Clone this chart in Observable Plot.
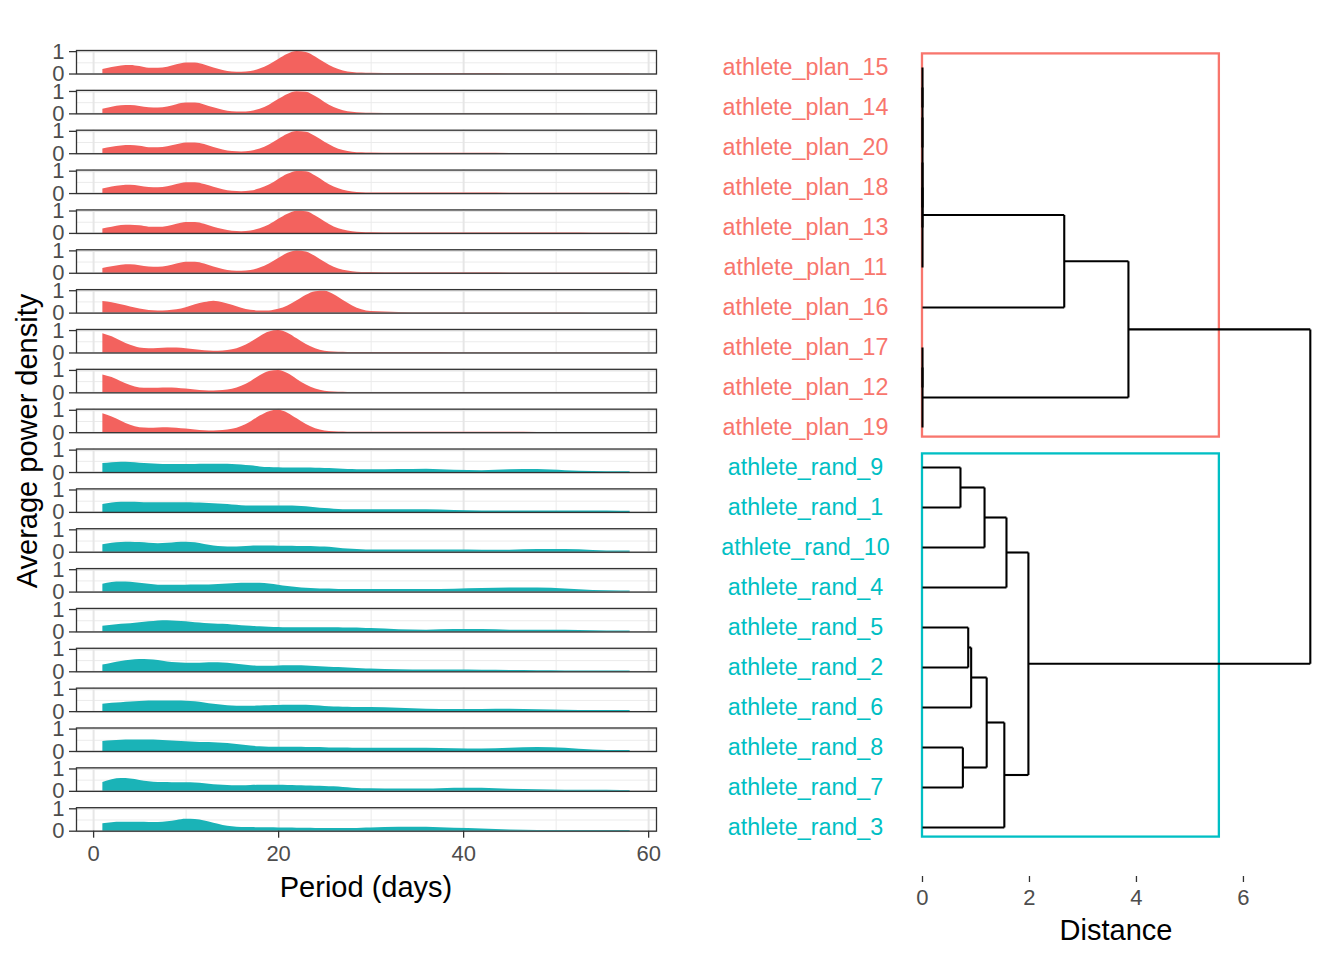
<!DOCTYPE html>
<html>
<head>
<meta charset="utf-8">
<script src="https://cdn.jsdelivr.net/npm/d3@7"></script>
<script src="https://cdn.jsdelivr.net/npm/@observablehq/plot@0.6"></script>
<style>
  body { margin: 0; background: #ffffff; }
  #chart { position: relative; width: 1344px; height: 960px; font-family: "Liberation Sans", Arial, Helvetica, sans-serif; background: #fff; overflow: hidden; }
  #left { position: absolute; left: 0; top: 0; }
  #right { position: absolute; left: 680px; top: 0; }
  .title { position: absolute; font-size: 29px; color: #000; white-space: nowrap; line-height: 1; }
</style>
</head>
<body>
<div id="chart">
  <div id="left"></div>
  <div id="right"></div>
  <div class="title" style="left:366px;top:887px;transform:translate(-50%,-50%);">Period (days)</div>
  <div class="title" style="left:27px;top:441px;transform:translate(-50%,-50%) rotate(-90deg);">Average power density</div>
  <div class="title" style="left:1116px;top:930px;transform:translate(-50%,-50%);">Distance</div>
</div>
<script>
// ---------- data ----------
const leaves = [
  "athlete_plan_15", "athlete_plan_14", "athlete_plan_20", "athlete_plan_18", "athlete_plan_13",
  "athlete_plan_11", "athlete_plan_16", "athlete_plan_17", "athlete_plan_12", "athlete_plan_19",
  "athlete_rand_9", "athlete_rand_1", "athlete_rand_10", "athlete_rand_4", "athlete_rand_5",
  "athlete_rand_2", "athlete_rand_6", "athlete_rand_8", "athlete_rand_7", "athlete_rand_3"
];
const groupNames = ["plan", "rand"];
const groupColors = ["#F3625E", "#1AB3B7"];
const labelColors = ["#F8766D", "#00BFC4"];

const periods = [1,2,3,4,5,6,7,8,9,10,11,12,13,14,15,16,17,18,19,20,21,22,23,24,25,26,27,28,29,30,33,36,39,42,45,48,51,54,57,58];
const xTicks = [0, 20, 40, 60];
const xMinor = [10, 30, 50];
const yTicks = [0, 1];
const distTicks = [0, 2, 4, 6];

const power_plan_15 = [0.20,0.29,0.36,0.38,0.33,0.26,0.26,0.30,0.41,0.49, 0.49,0.40,0.27,0.16,0.09,0.08,0.11,0.22,0.40,0.65, 0.88,1.00,0.96,0.76,0.50,0.28,0.14,0.07,0.04,0.03, 0.02,0.02,0.02,0.02,0.015,0.015,0.015,0.01,0.01,0.01];
const power_plan_14 = [0.21,0.30,0.36,0.37,0.33,0.27,0.26,0.31,0.41,0.48, 0.48,0.40,0.27,0.16,0.09,0.08,0.11,0.21,0.39,0.64, 0.87,0.99,0.96,0.77,0.51,0.28,0.14,0.07,0.04,0.03, 0.02,0.02,0.02,0.02,0.015,0.015,0.015,0.01,0.01,0.01];
const power_plan_20 = [0.21,0.29,0.35,0.37,0.33,0.27,0.27,0.31,0.40,0.48, 0.48,0.41,0.28,0.17,0.10,0.08,0.11,0.21,0.39,0.64, 0.87,0.99,0.96,0.77,0.51,0.29,0.14,0.07,0.04,0.03, 0.02,0.02,0.02,0.02,0.015,0.015,0.015,0.01,0.01,0.01];
const power_plan_18 = [0.20,0.29,0.35,0.37,0.33,0.27,0.26,0.30,0.40,0.48, 0.48,0.40,0.28,0.17,0.10,0.08,0.11,0.21,0.38,0.63, 0.86,0.99,0.97,0.78,0.52,0.29,0.15,0.07,0.04,0.03, 0.02,0.02,0.02,0.02,0.015,0.015,0.015,0.01,0.01,0.01];
const power_plan_13 = [0.20,0.28,0.35,0.37,0.34,0.28,0.27,0.31,0.41,0.49, 0.49,0.41,0.28,0.17,0.10,0.08,0.11,0.21,0.38,0.63, 0.86,0.99,0.97,0.78,0.52,0.29,0.15,0.07,0.04,0.03, 0.02,0.02,0.02,0.02,0.015,0.015,0.015,0.01,0.01,0.01];
const power_plan_11 = [0.21,0.29,0.36,0.38,0.34,0.28,0.27,0.31,0.41,0.49, 0.49,0.41,0.28,0.17,0.10,0.09,0.12,0.23,0.41,0.66, 0.89,1.00,0.95,0.75,0.49,0.27,0.13,0.07,0.04,0.03, 0.02,0.02,0.02,0.02,0.015,0.015,0.015,0.01,0.01,0.01];
const power_plan_16 = [0.52,0.46,0.37,0.27,0.18,0.12,0.10,0.11,0.15,0.24, 0.37,0.47,0.53,0.46,0.35,0.22,0.13,0.10,0.10,0.17, 0.32,0.55,0.80,0.96,0.98,0.82,0.56,0.32,0.15,0.07, 0.03,0.02,0.02,0.02,0.02,0.015,0.015,0.01,0.01,0.01];
const power_plan_17 = [0.86,0.72,0.52,0.34,0.22,0.19,0.20,0.22,0.22,0.19, 0.14,0.10,0.08,0.09,0.14,0.27,0.47,0.73,0.94,1.00, 0.88,0.63,0.38,0.19,0.08,0.04,0.03,0.02,0.02,0.02, 0.02,0.02,0.015,0.015,0.015,0.01,0.01,0.01,0.01,0.01];
const power_plan_12 = [0.80,0.68,0.50,0.33,0.22,0.20,0.21,0.22,0.21,0.17, 0.13,0.09,0.08,0.10,0.16,0.29,0.50,0.76,0.95,1.00, 0.86,0.60,0.35,0.17,0.07,0.04,0.03,0.02,0.02,0.02, 0.02,0.02,0.015,0.015,0.015,0.01,0.01,0.01,0.01,0.01];
const power_plan_19 = [0.84,0.70,0.51,0.33,0.22,0.20,0.21,0.22,0.20,0.16, 0.12,0.09,0.08,0.10,0.15,0.28,0.48,0.74,0.94,1.00, 0.87,0.62,0.37,0.18,0.08,0.04,0.03,0.02,0.02,0.02, 0.02,0.02,0.015,0.015,0.015,0.01,0.01,0.01,0.01,0.01];
const power_rand_9  = [0.40,0.44,0.46,0.45,0.42,0.39,0.37,0.36,0.36,0.36, 0.36,0.37,0.37,0.37,0.36,0.34,0.30,0.25,0.22,0.21, 0.20,0.20,0.20,0.19,0.18,0.17,0.15,0.13,0.12,0.12, 0.13,0.15,0.10,0.08,0.12,0.13,0.08,0.05,0.04,0.04];
const power_rand_1  = [0.35,0.42,0.45,0.45,0.44,0.43,0.43,0.43,0.43,0.43, 0.42,0.41,0.39,0.36,0.33,0.30,0.29,0.29,0.29,0.29, 0.28,0.27,0.25,0.21,0.17,0.14,0.12,0.12,0.12,0.12, 0.12,0.12,0.08,0.06,0.06,0.06,0.06,0.06,0.05,0.05];
const power_rand_10 = [0.33,0.40,0.44,0.45,0.43,0.40,0.38,0.40,0.44,0.45, 0.42,0.35,0.28,0.24,0.23,0.25,0.27,0.28,0.28,0.27, 0.27,0.26,0.26,0.25,0.23,0.20,0.16,0.13,0.11,0.10, 0.10,0.10,0.10,0.09,0.09,0.12,0.12,0.08,0.05,0.05];
const power_rand_4  = [0.35,0.43,0.45,0.44,0.40,0.35,0.31,0.30,0.30,0.31, 0.32,0.32,0.33,0.35,0.37,0.39,0.40,0.39,0.36,0.31, 0.25,0.20,0.17,0.15,0.14,0.13,0.12,0.12,0.12,0.12, 0.12,0.12,0.13,0.16,0.18,0.18,0.14,0.07,0.05,0.05];
const power_rand_5  = [0.25,0.30,0.34,0.37,0.41,0.45,0.49,0.50,0.48,0.45, 0.41,0.38,0.36,0.34,0.31,0.28,0.25,0.23,0.21,0.20, 0.19,0.19,0.19,0.19,0.19,0.19,0.18,0.18,0.17,0.15, 0.10,0.08,0.11,0.11,0.08,0.08,0.07,0.05,0.04,0.04];
const power_rand_2  = [0.30,0.38,0.46,0.52,0.55,0.54,0.50,0.44,0.40,0.38, 0.38,0.39,0.40,0.39,0.36,0.31,0.27,0.25,0.25,0.26, 0.27,0.27,0.26,0.24,0.21,0.19,0.18,0.16,0.14,0.12, 0.09,0.08,0.08,0.07,0.06,0.05,0.04,0.03,0.03,0.03];
const power_rand_6  = [0.33,0.37,0.40,0.43,0.45,0.47,0.48,0.48,0.47,0.46, 0.44,0.39,0.33,0.28,0.25,0.24,0.24,0.25,0.26,0.27, 0.28,0.28,0.28,0.26,0.23,0.21,0.20,0.19,0.18,0.18, 0.15,0.11,0.10,0.10,0.11,0.09,0.06,0.05,0.05,0.05];
const power_rand_8  = [0.45,0.48,0.50,0.51,0.51,0.51,0.50,0.48,0.46,0.43, 0.41,0.40,0.39,0.37,0.34,0.29,0.24,0.21,0.19,0.19, 0.19,0.19,0.18,0.18,0.17,0.16,0.16,0.15,0.15,0.15, 0.15,0.15,0.12,0.11,0.15,0.18,0.15,0.07,0.04,0.04];
const power_rand_7  = [0.40,0.52,0.57,0.55,0.49,0.43,0.40,0.39,0.38,0.38, 0.37,0.34,0.30,0.27,0.25,0.25,0.26,0.27,0.27,0.27, 0.26,0.25,0.24,0.23,0.22,0.20,0.17,0.14,0.12,0.12, 0.10,0.10,0.14,0.14,0.09,0.07,0.05,0.05,0.04,0.04];
const power_rand_3  = [0.33,0.38,0.40,0.40,0.40,0.39,0.39,0.42,0.48,0.53, 0.52,0.45,0.35,0.26,0.20,0.17,0.16,0.15,0.15,0.14, 0.14,0.13,0.13,0.12,0.12,0.12,0.12,0.12,0.13,0.14, 0.18,0.18,0.13,0.10,0.05,0.03,0.03,0.03,0.03,0.03];

// hierarchical clustering merges: [left, right, height]; strings = leaves, numbers = earlier merges
const merges = [
  ["athlete_plan_15", "athlete_plan_14", 0],   // 0
  [0, "athlete_plan_20", 0],                    // 1
  ["athlete_plan_18", "athlete_plan_13", 0],   // 2
  [1, 2, 0],                                    // 3
  [3, "athlete_plan_11", 0],                    // 4
  [4, "athlete_plan_16", 2.65],                 // 5
  ["athlete_plan_17", "athlete_plan_12", 0],   // 6
  [6, "athlete_plan_19", 0],                    // 7
  [5, 7, 3.85],                                 // 8
  ["athlete_rand_9", "athlete_rand_1", 0.71],  // 9
  [9, "athlete_rand_10", 1.16],                 // 10
  [10, "athlete_rand_4", 1.57],                 // 11
  ["athlete_rand_5", "athlete_rand_2", 0.855], // 12
  [12, "athlete_rand_6", 0.91],                 // 13
  ["athlete_rand_8", "athlete_rand_7", 0.755], // 14
  [13, 14, 1.2],                                // 15
  [15, "athlete_rand_3", 1.53],                 // 16
  [11, 16, 1.98],                               // 17
  [8, 17, 7.25]                                 // 18
];
const clusterFirst = ["athlete_plan_15", "athlete_rand_9"];
const clusterLast = ["athlete_plan_19", "athlete_rand_3"];
const clusterRectHeight = 5.55;

// ---------- build tables ----------
const seriesByAthlete = {
  athlete_plan_15: power_plan_15, athlete_plan_14: power_plan_14, athlete_plan_20: power_plan_20,
  athlete_plan_18: power_plan_18, athlete_plan_13: power_plan_13, athlete_plan_11: power_plan_11,
  athlete_plan_16: power_plan_16, athlete_plan_17: power_plan_17, athlete_plan_12: power_plan_12,
  athlete_plan_19: power_plan_19, athlete_rand_9: power_rand_9, athlete_rand_1: power_rand_1,
  athlete_rand_10: power_rand_10, athlete_rand_4: power_rand_4, athlete_rand_5: power_rand_5,
  athlete_rand_2: power_rand_2, athlete_rand_6: power_rand_6, athlete_rand_8: power_rand_8,
  athlete_rand_7: power_rand_7, athlete_rand_3: power_rand_3
};
const groupOf = (a) => a.includes("_plan_") ? "plan" : "rand";
const rows = [];
for (const a of leaves) {
  seriesByAthlete[a].forEach((v, i) => rows.push({athlete: a, group: groupOf(a), period: periods[i], power: v}));
}

const leafIndex = new Map(leaves.map((d, i) => [d, i]));
const nodes = [];
const segs = [];
const ref = (r) => typeof r === "string" ? {y: leafIndex.get(r), h: 0} : nodes[r];
for (const [a, b, h] of merges) {
  const A = ref(a), B = ref(b);
  segs.push({x1: A.h, y1: A.y, x2: h, y2: A.y});
  segs.push({x1: B.h, y1: B.y, x2: h, y2: B.y});
  segs.push({x1: h, y1: A.y, x2: h, y2: B.y});
  nodes.push({y: (A.y + B.y) / 2, h});
}
const rects = clusterFirst.map((f, i) => ({
  x1: 0, x2: clusterRectHeight,
  y1: leafIndex.get(f) - 0.34, y2: leafIndex.get(clusterLast[i]) + 0.24,
  color: labelColors[i]
}));
const labelRows = leaves.map((a, i) => ({name: a, idx: i, color: labelColors[groupNames.indexOf(groupOf(a))]}));

// ---------- left: faceted spectra ----------
const left = Plot.plot({
  width: 680,
  height: 960,
  marginLeft: 76,
  marginRight: 24,
  marginTop: 50,
  marginBottom: 129.3,
  style: {fontFamily: "'Liberation Sans', Arial, Helvetica, sans-serif", fontSize: "22px", background: "#fff", overflow: "visible"},
  x: {domain: [-1.85, 60.85], label: null},
  y: {domain: [0, 1.05], label: null},
  fy: {domain: leaves, paddingInner: 0.41, paddingOuter: 0, round: false, axis: null, label: null},
  color: {domain: groupNames, range: groupColors},
  marks: [
    Plot.gridX(xMinor, {stroke: "#EBEBEB", strokeOpacity: 1, strokeWidth: 1}),
    Plot.gridY([0.5], {stroke: "#EBEBEB", strokeOpacity: 1, strokeWidth: 1}),
    Plot.gridX(xTicks, {stroke: "#E6E6E6", strokeOpacity: 1, strokeWidth: 2}),
    Plot.gridY(yTicks, {stroke: "#E6E6E6", strokeOpacity: 1, strokeWidth: 2}),
    Plot.areaY(rows, {x: "period", y: "power", fy: "athlete", fill: "group", curve: "monotone-x"}),
    Plot.frame({stroke: "#333333", strokeWidth: 1.3}),
    Plot.axisY(yTicks, {tickSize: 7, tickPadding: 5, fontSize: 22, color: "#4D4D4D", stroke: "#333333", strokeWidth: 1.3, label: null}),
    Plot.axisX(xTicks, {tickSize: 7, tickPadding: 7, fontSize: 22, color: "#4D4D4D", stroke: "#333333", strokeWidth: 1.3, label: null})
  ]
});
document.getElementById("left").appendChild(left);

// ---------- right: dendrogram ----------
const right = Plot.plot({
  width: 664,
  height: 960,
  marginLeft: 222.6,
  marginRight: 14.8,
  marginTop: 20,
  marginBottom: 84,
  style: {fontFamily: "'Liberation Sans', Arial, Helvetica, sans-serif", fontSize: "22px", background: "#fff", overflow: "visible"},
  x: {domain: [-0.3625, 7.6125], label: null},
  y: {domain: [0, 19], range: [67, 827], axis: null},
  color: {type: "identity"},
  marks: [
    Plot.rect(rects, {x1: "x1", x2: "x2", y1: "y1", y2: "y2", stroke: "color", fill: "none", strokeWidth: 2.3}),
    Plot.link(segs, {x1: "x1", y1: "y1", x2: "x2", y2: "y2", stroke: "#000", strokeWidth: 2.1}),
    Plot.text(labelRows, {y: "idx", text: "name", fill: "color", frameAnchor: "left", dx: -97.6, textAnchor: "middle", fontSize: 23.3}),
    Plot.axisX(distTicks, {tickSize: 6, tickPadding: 7, fontSize: 22, color: "#4D4D4D", stroke: "#333333", strokeWidth: 1.3, label: null})
  ]
});
document.getElementById("right").appendChild(right);
</script>
</body>
</html>
